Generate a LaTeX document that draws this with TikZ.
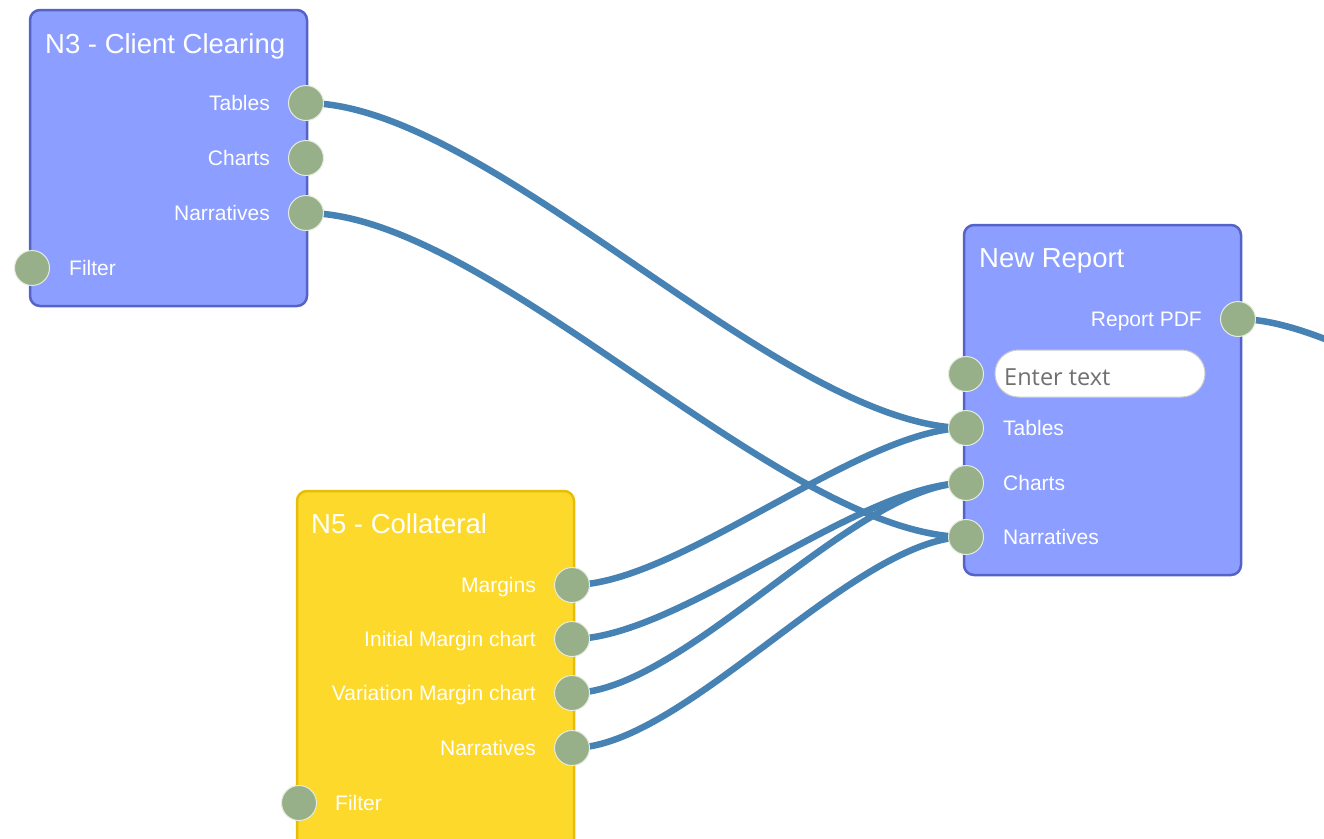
\documentclass[tikz,border=0pt]{standalone}
\usepackage{fontspec}
\setmainfont{Liberation Sans}
\newfontfamily\inputfont{Open Sans}
\pgfdeclarelayer{bg}
\pgfdeclarelayer{wires}
\pgfsetlayers{bg,wires,main}
\definecolor{boxblue}{HTML}{8C9EFF}
\definecolor{boxblueedge}{HTML}{5563C8}
\definecolor{boxyellow}{HTML}{FDD92C}
\definecolor{boxyellowedge}{HTML}{E6BE0A}
\definecolor{portfill}{HTML}{97B08A}
\definecolor{portedge}{HTML}{E4ECDD}
\definecolor{wirecol}{HTML}{4682B4}
\definecolor{hintgray}{HTML}{707070}
\tikzset{
  bluebox/.style={draw=boxblueedge, fill=boxblue, line width=2.5pt, rounded corners=10pt},
  yellowbox/.style={draw=boxyellowedge, fill=boxyellow, line width=2.5pt, rounded corners=10pt},
  port/.style={circle, fill=portfill, draw=portedge, line width=1pt, minimum size=35pt, inner sep=0pt},
  title/.style={text=white, font=\fontsize{27.5}{31}\selectfont, anchor=west, inner sep=0pt, text height=0.72em, text depth=0pt, yshift=-6pt},
  lbl/.style={text=white, font=\fontsize{21}{24}\selectfont, inner sep=0pt, text height=0.72em, text depth=0pt, yshift=-4pt},
  lblr/.style={lbl, anchor=east},
  lbll/.style={lbl, anchor=west},
  wire/.style={draw=wirecol, line width=6.5pt},
  inputbox/.style={draw=black!20, fill=white, line width=1pt, rounded corners=23.5pt},
}
\begin{document}
\begin{tikzpicture}[x=1pt, y=-1pt]
\useasboundingbox (0,0) rectangle (1324,838);

% background and boxes
\begin{pgfonlayer}{bg}
  \fill[white] (-5,-5) rectangle (1330,845);
  \path[bluebox] (30,10) rectangle (307,306);
  \path[yellowbox] (297,491) rectangle (574,860);
  \path[bluebox] (964,225) rectangle (1241,575);
\end{pgfonlayer}

% N3 - Client Clearing
\node[title] (t3) at (45,44) {N3 - Client Clearing};
\node[port] (n3tab) at (306,103) {};
\node[port] (n3cha) at (306,158) {};
\node[port] (n3nar) at (306,213) {};
\node[port] (n3fil) at (32,268) {};
\node[lblr] (l3tab) at (270,103) {Tables};
\node[lblr] (l3cha) at (270,158) {Charts};
\node[lblr] (l3nar) at (270,213) {Narratives};
\node[lbll] (l3fil) at (69,268) {Filter};

% N5 - Collateral
\node[title] (t5) at (311,524) {N5 - Collateral};
\node[port] (n5mar) at (572,585) {};
\node[port] (n5ini) at (572,639) {};
\node[port] (n5var) at (572,693) {};
\node[port] (n5nar) at (572,748) {};
\node[port] (n5fil) at (299,803) {};
\node[lblr] (l5mar) at (536,585) {Margins};
\node[lblr] (l5ini) at (536,639) {Initial Margin chart};
\node[lblr] (l5var) at (536,693) {Variation Margin chart};
\node[lblr] (l5nar) at (536,748) {Narratives};
\node[lbll] (l5fil) at (335,803) {Filter};

% New Report
\node[title] (tr) at (979,258) {New Report};
\node[port] (nrpdf) at (1238,319) {};
\node[lblr] (lrpdf) at (1202,319) {Report PDF};
\path[inputbox] (995,350) rectangle (1205,397);
\node[anchor=west, inner sep=0pt, text=hintgray, font=\inputfont\fontsize{23.5}{27}\selectfont] (hint) at (1004,377) {Enter text};
\node[port] (nrtxt) at (966,374) {};
\node[port] (nrtab) at (966,428) {};
\node[port] (nrcha) at (966,483) {};
\node[port] (nrnar) at (966,537) {};
\node[lbll] (lrtab) at (1003,428) {Tables};
\node[lbll] (lrcha) at (1003,483) {Charts};
\node[lbll] (lrnar) at (1003,537) {Narratives};
\coordinate (pdfout) at (1700,500);

% wires
\begin{pgfonlayer}{wires}
  \draw[wire] (n3tab.center) .. controls +(184,0) and +(-184,0) .. (nrtab.center);
  \draw[wire] (n3nar.center) .. controls +(184,0) and +(-184,0) .. (nrnar.center);
  \draw[wire] (n5mar.center) .. controls +(106,0) and +(-106,0) .. (nrtab.center);
  \draw[wire] (n5ini.center) .. controls +(106,0) and +(-106,0) .. (nrcha.center);
  \draw[wire] (n5var.center) .. controls +(112,0) and +(-112,0) .. (nrcha.center);
  \draw[wire] (n5nar.center) .. controls +(112,0) and +(-112,0) .. (nrnar.center);
  \draw[wire] (nrpdf.center) .. controls +(124,0) and +(-124,0) .. (pdfout);
\end{pgfonlayer}
\end{tikzpicture}
\end{document}
